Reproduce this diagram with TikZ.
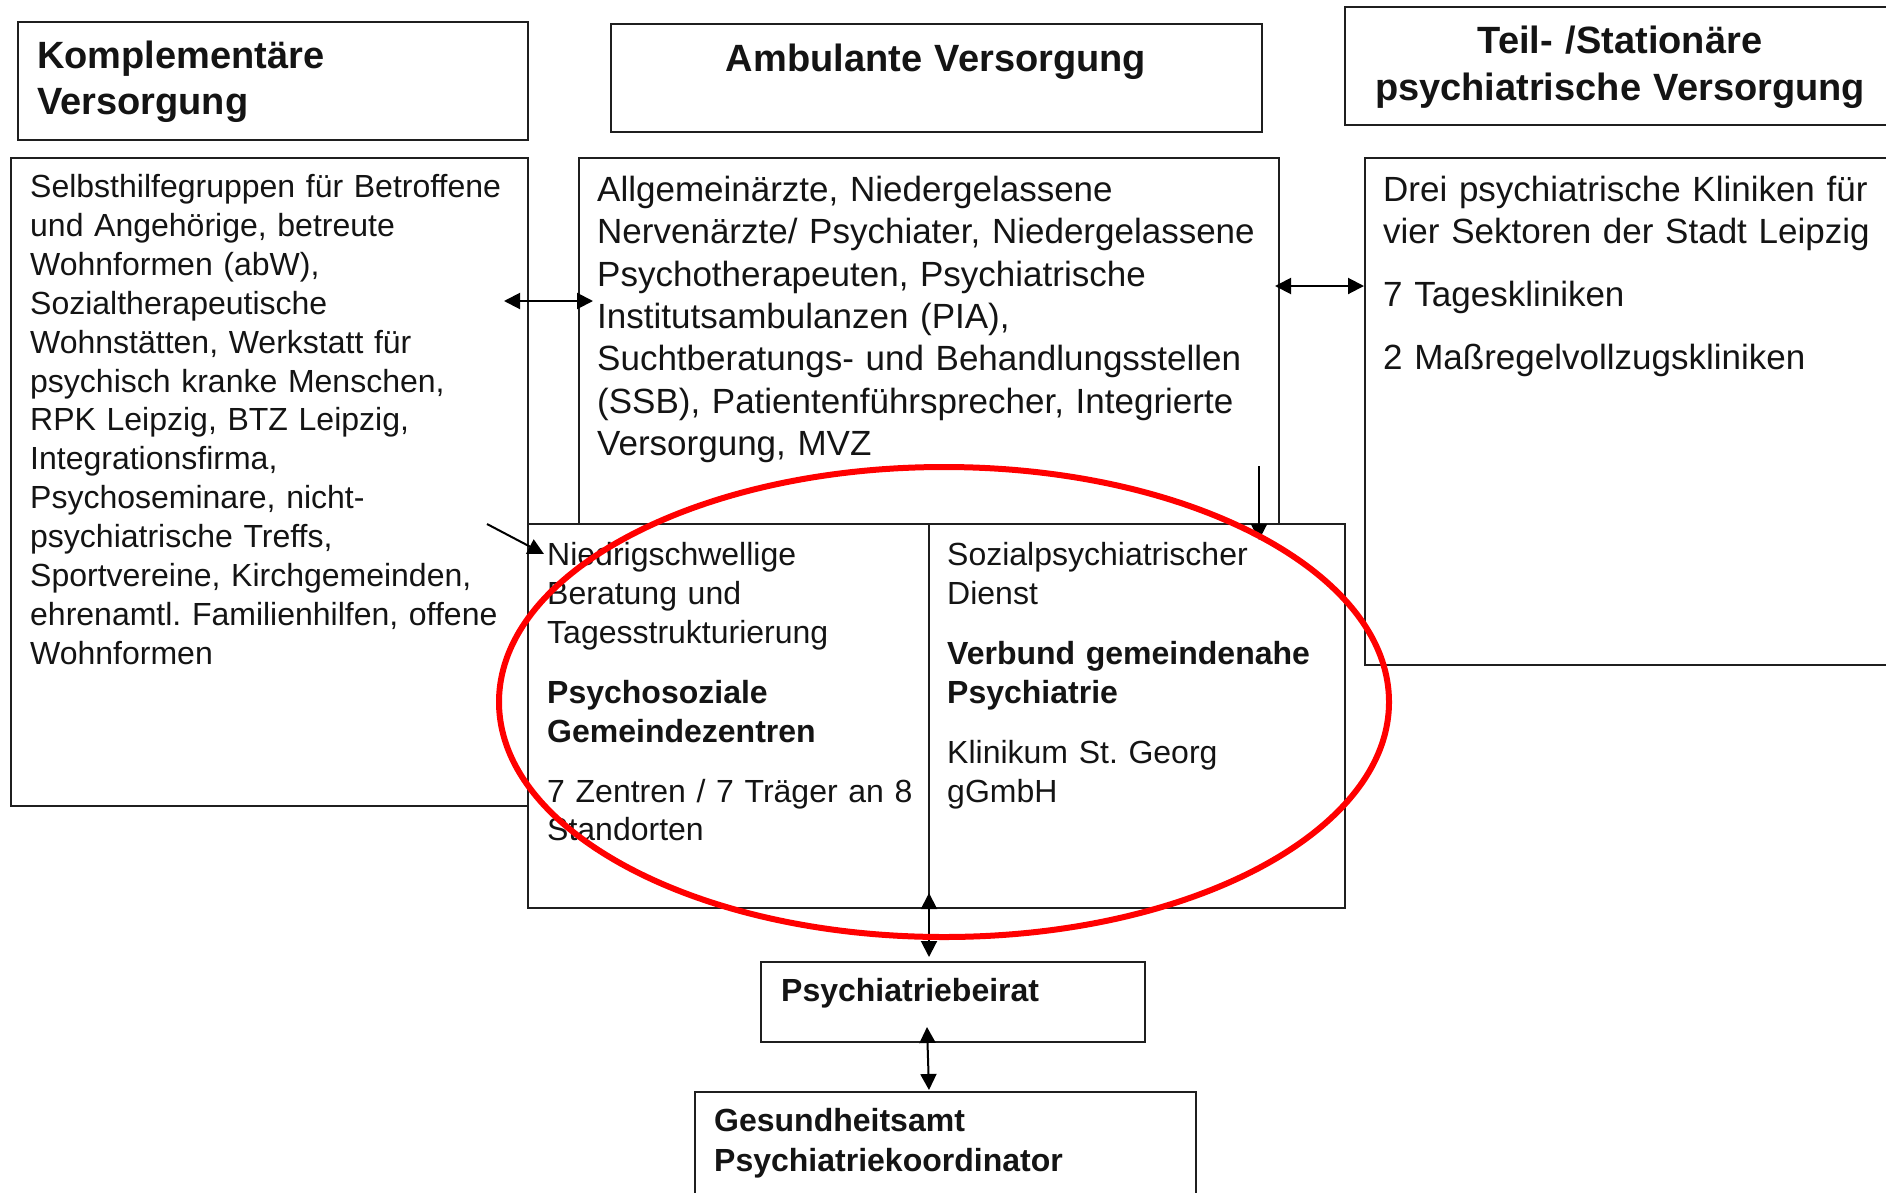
\documentclass[tikz,border=0pt]{standalone}
\usepackage{fontspec}
\setmainfont{Liberation Sans}
\usetikzlibrary{arrows.meta,shapes.geometric}
\frenchspacing
\begin{document}
\begin{tikzpicture}[x=1pt,y=-1pt,
  frame/.style={draw=black!88, line width=2pt, inner sep=0pt, outer sep=0pt, anchor=north west},
  txtS/.style={font=\fontsize{32}{38.9}\selectfont, inner sep=0pt, anchor=base west, text width=600pt, align=left, text=black!92},
  txtM/.style={font=\fontsize{35}{42.3}\selectfont, inner sep=0pt, anchor=base west, text width=700pt, align=left, text=black!92},
  head/.style={font=\fontsize{38}{46}\selectfont\bfseries, inner sep=0pt, text width=560pt, text=black!92},
  link/.style={line width=2pt, draw=black, {Triangle[length=16pt,width=16pt]}-{Triangle[length=16pt,width=16pt]}},
  oneway/.style={line width=2pt, draw=black, -{Triangle[length=16pt,width=16pt]}},
]
\useasboundingbox (0,0) rectangle (1886,1192);
\clip (0,0) rectangle (1886,1192);

% boxes
\node[frame, minimum width=510pt, minimum height=118pt] (hKomp) at (18,22) {};
\node[frame, minimum width=651pt, minimum height=108pt] (hAmb) at (611,24) {};
\node[frame, minimum width=560pt, minimum height=118pt] (hTeil) at (1345,7) {};
\node[frame, minimum width=517pt, minimum height=648pt] (bLeft) at (11,158) {};
\node[frame, minimum width=700pt, minimum height=366pt] (bMid) at (579,158) {};
\node[frame, minimum width=540pt, minimum height=507pt] (bRight) at (1365,158) {};
\node[frame, minimum width=401pt, minimum height=384pt] (bLowL) at (528,524) {};
\node[frame, minimum width=416pt, minimum height=384pt] (bLowR) at (929,524) {};
\node[frame, minimum width=384pt, minimum height=80pt] (bBeirat) at (761,962) {};
\node[frame, minimum width=501pt, minimum height=120pt] (bGes) at (695,1092) {};

% headers
\node[head, anchor=base west, align=left] (tKomp) at (37,68.5) {Komplementäre\\Versorgung};
\node[head, anchor=base, align=center] (tAmb) at (936,71) {Ambulante Versorgung};
\node[head, anchor=base, align=center, font=\fontsize{38}{47}\selectfont\bfseries] (tTeil) at (1620,53.5) {Teil- /Stationäre\\psychiatrische Versorgung};

% body texts
\node[txtS] (tLeft) at (30,197.5) {Selbsthilfegruppen für Betroffene\\und Angehörige, betreute\\Wohnformen (abW),\\Sozialtherapeutische\\Wohnstätten, Werkstatt für\\psychisch kranke Menschen,\\RPK Leipzig, BTZ Leipzig,\\Integrationsfirma,\\Psychoseminare, nicht-\\psychiatrische Treffs,\\Sportvereine, Kirchgemeinden,\\ehrenamtl. Familienhilfen, offene\\Wohnformen};
\node[txtM] (tMid) at (597,201.5) {Allgemeinärzte, Niedergelassene\\Nervenärzte/ Psychiater, Niedergelassene\\Psychotherapeuten, Psychiatrische\\Institutsambulanzen (PIA),\\Suchtberatungs- und Behandlungsstellen\\(SSB), Patientenführsprecher, Integrierte\\Versorgung, MVZ};
\node[txtM] (tRight) at (1383,201.5) {Drei psychiatrische Kliniken für\\vier Sektoren der Stadt Leipzig\\[20pt]7 Tageskliniken\\[21pt]2 Maßregelvollzugskliniken};
\node[txtS] (tLowL) at (547,565.5) {Niedrigschwellige\\Beratung und\\Tagesstrukturierung\\[21pt]\textbf{Psychosoziale}\\\textbf{Gemeindezentren}\\[21pt]7 Zentren / 7 Träger an 8\\Standorten};
\node[txtS] (tLowR) at (947,565.5) {Sozialpsychiatrischer\\Dienst\\[21pt]\textbf{Verbund gemeindenahe}\\\textbf{Psychiatrie}\\[21pt]Klinikum St. Georg\\gGmbH};
\node[txtS, font=\fontsize{32}{38.7}\selectfont\bfseries] (tBeirat) at (781,1001.5) {Psychiatriebeirat};
\node[txtS, font=\fontsize{32}{40}\selectfont\bfseries] (tGes) at (714,1131.5) {Gesundheitsamt\\Psychiatriekoordinator};

% connector ends
\coordinate (a1l) at (504,301); \coordinate (a1r) at (593,301);
\coordinate (a2l) at (1275,286); \coordinate (a2r) at (1364,286);
\coordinate (a3s) at (487,524); \coordinate (a3e) at (544,554);
\coordinate (a4s) at (1259,466); \coordinate (a4e) at (1259,540);
\coordinate (a5t) at (929,893); \coordinate (a5b) at (929,957);
\coordinate (a6t) at (927,1027); \coordinate (a6b) at (929,1090);

\draw[link] (a1l) -- (a1r);
\draw[link] (a2l) -- (a2r);
\draw[oneway] (a3s) -- (a3e);
\draw[oneway] (a4s) -- (a4e);
\draw[link] (a5t) -- (a5b);
\draw[link] (a6t) -- (a6b);

% red ring
\node[draw=red, line width=6pt, ellipse, minimum width=890pt, minimum height=470pt, inner sep=0pt] (ring) at (944,702) {};
\end{tikzpicture}
\end{document}
